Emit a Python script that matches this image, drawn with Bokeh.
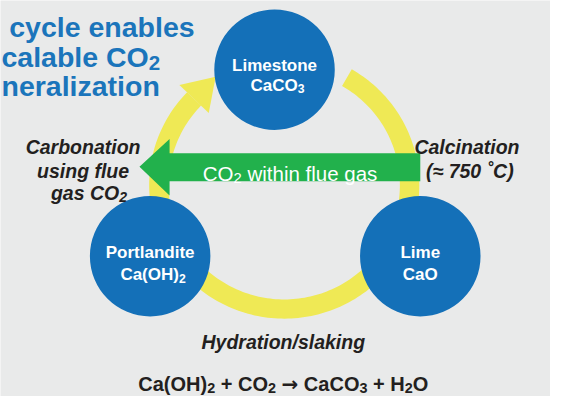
import numpy as np
from bokeh.plotting import figure
from bokeh.models import Range1d
from bokeh.core.properties import value
from bokeh.embed import file_html
from bokeh.resources import INLINE

# ---- content: (text, kind) kind 0 = normal, 1 = subscript, 2 = arrow symbol ----
title_lines = [[("cycle enables", 0)],
               [("calable CO", 0), ("2", 1)],
               [("neralization", 0)]]
node_names = ["Limestone", "Lime", "Portlandite"]
node_formulas = [[("CaCO", 0), ("3", 1)],
                 [("CaO", 0)],
                 [("Ca(OH)", 0), ("2", 1)]]
carbonation_lines = [[("Carbonation", 0)], [("using flue", 0)], [("gas CO", 0), ("2", 1)]]
calcination_lines = ["Calcination", "(\u2248 750 \u02daC)"]
hydration_label = ["Hydration/slaking"]
arrow_label = [("CO", 0), ("2", 1), (" within flue gas", 0)]
equation = [("Ca(OH)", 0), ("2", 1), (" + CO", 0), ("2", 1), (" ", 0), ("\u2192", 2),
            (" CaCO", 0), ("3", 1), (" + H", 0), ("2", 1), ("O", 0)]

# ---- style / layout (reference pixel space, y downwards) ----
W, H = 566, 412
PW, PH = 550, 396
XS, YS = W / PW, H / PH
BG = "#e9eaea"
BLUE = "#1470b8"
TITLE_BLUE = "#1b75bb"
YELLOW = "#efe955"
GREEN = "#22b14c"
DARK = "#231f20"
FONT = "Liberation Sans"
SUBF, SUBDY = 0.72, 0.22

BOLD_W = {' ': 278, '(': 333, ')': 333, '+': 584, '/': 278, 'C': 722, 'O': 778, 'H': 722,
          'L': 611, 'P': 667, 'a': 556, 'b': 611, 'c': 556, 'd': 611, 'e': 556, 'f': 333,
          'g': 611, 'h': 611, 'i': 278, 'k': 556, 'l': 278, 'm': 889, 'n': 611, 'o': 611,
          'r': 389, 's': 556, 't': 333, 'u': 611, 'w': 778, 'y': 556, 'z': 500}
REG_W = {' ': 278, 'C': 722, 'O': 778, 'a': 556, 'e': 556, 'f': 278, 'g': 556, 'h': 556,
         'i': 222, 'l': 222, 'n': 556, 's': 500, 't': 278, 'u': 556, 'w': 722}

p = figure(width=PW, height=PH, x_range=Range1d(0, W), y_range=Range1d(H, 0),
           output_backend="svg", toolbar_location=None, min_border=0)
p.axis.visible = False
p.grid.visible = False
p.outline_line_color = None
p.background_fill_color = BG
p.border_fill_color = BG


def text_w(t, k, fs, table):
    if k == 2:
        return 0.838 * fs
    f = fs * (SUBF if k == 1 else 1)
    return sum(table.get(c, 556) for c in t) * f / 1000


def rich(x, y, segs, fs, style, color, align="center"):
    table = REG_W if style == "normal" else BOLD_W
    widths = [text_w(t, k, fs, table) for t, k in segs]
    total = sum(widths)
    if align == "center":
        cx = x - total * XS / 2
    elif align == "right":
        cx = x - total * XS
    else:
        cx = x
    for (t, k), w in zip(segs, widths):
        core = t.strip(" ")
        lead = len(t) - len(t.lstrip(" "))
        if core:
            f = fs * (SUBF if k == 1 else 1)
            yy = y + (SUBDY * fs * YS if k == 1 else 0)
            font = "DejaVu Sans" if k == 2 else FONT
            x0 = cx + text_w(" " * lead, 0, fs, table) * XS
            p.text(x=[x0], y=[yy], text=[core], text_font=value(font), text_font_style=style,
                   text_font_size=f"{f:.1f}px", text_color=color, text_align="left",
                   text_baseline="alphabetic")
        cx += w * XS


node_x = [282, 432, 154]
node_y = [72, 266, 266]
node_r = 62
ring_cx, ring_cy, ring_r, ring_w = 292, 192, 129, 20

# yellow ring (clockwise on screen from top-right round to upper-left)
t = np.radians(np.linspace(-60, 224, 200))
ri, ro = ring_r - ring_w / 2, ring_r + ring_w / 2
xs = np.concatenate([ring_cx + ro * np.cos(t), ring_cx + ri * np.cos(t[::-1])])
ys = np.concatenate([ring_cy + ro * np.sin(t), ring_cy + ri * np.sin(t[::-1])])
p.patch(xs, ys, fill_color=YELLOW, line_color=None)

# arrow head on ring
a = np.radians(224)
bx, by = ring_cx + ring_r * np.cos(a), ring_cy + ring_r * np.sin(a)
rdx, rdy = np.cos(a), np.sin(a)
tdx, tdy = -np.sin(a), np.cos(a)
hw, hl = 21, 32
p.patch([bx - hw * rdx, bx + hw * rdx, bx + hl * tdx],
        [by - hw * rdy, by + hw * rdy, by + hl * tdy],
        fill_color=YELLOW, line_color=None)

# nodes
p.circle(x=node_x, y=node_y, radius=node_r, fill_color=BLUE, line_color=None)

# green arrow
gx = [143, 174, 174, 432, 432, 174, 174]
gy = [173, 144, 159, 159, 188, 188, 203]
p.patch(gx, gy, fill_color=GREEN, line_color=None)

# node labels
p.text(x=node_x, y=[68, 262, 262], text=node_names, text_font=value(FONT),
       text_font_style="bold", text_font_size="17px", text_color="white",
       text_align="center", text_baseline="alphabetic")
for fx, fy, segs in zip([285, 432, 157], [88, 285, 285], node_formulas):
    rich(fx, fy, segs, 17, "bold", "white")

# title (cropped from a longer heading)
for tx, ty, segs in zip([9, 1, 1], [28, 59, 89], title_lines):
    rich(tx, ty, segs, 28.5, "bold", TITLE_BLUE, align="left")

# process labels
for lx, ly, segs in zip([85, 85, 91], [152, 177, 200], carbonation_lines):
    rich(lx, ly, segs, 19.5, "bold italic", DARK)
p.text(x=[480, 483], y=[152, 177], text=calcination_lines, text_font=value(FONT),
       text_font_style="bold italic", text_font_size="19.5px", text_color=DARK,
       text_align="center", text_baseline="alphabetic")
p.text(x=[291], y=[355], text=hydration_label, text_font=value(FONT),
       text_font_style="bold italic", text_font_size="19.5px", text_color=DARK,
       text_align="center", text_baseline="alphabetic")

# arrow label
rich(298, 180, arrow_label, 20.5, "normal", "white")

# equation
rich(291, 399, equation, 20, "bold", DARK)

open("out.html", "w").write(file_html(p, INLINE))
